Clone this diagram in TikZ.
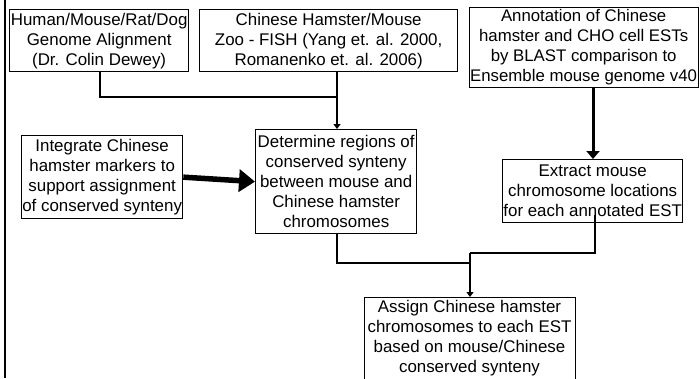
\documentclass[tikz,border=0pt]{standalone}
\usepackage{fontspec}
\setmainfont{Liberation Sans}
\usetikzlibrary{arrows.meta}
\begin{document}
\begin{tikzpicture}[x=1pt,y=-1pt,
  box/.style={draw,line width=1.3pt,rectangle,inner sep=0pt,anchor=north west,align=center,
    font=\fontsize{16.9}{20}\selectfont},
  conn/.style={line width=1.3pt},
  thinarrow/.style={conn,-{Triangle[width=7pt,length=5pt]}},
  medarrow/.style={line width=3pt,-{Triangle[width=13pt,length=8pt]}},
  bigarrow/.style={line width=5.5pt,-{Triangle[width=22pt,length=16pt]}}]
\useasboundingbox (0,0) rectangle (700,378);
\clip (0,0) rectangle (700,378);
\coordinate (lt) at (5,0);
\coordinate (lb) at (5,378);
\draw[line width=2pt] (lt) -- (lb);
\node[box,minimum width=179pt,minimum height=62pt] (b1) at (9,9)
  {Human/Mouse/Rat/Dog\\Genome Alignment\\(Dr. Colin Dewey)};
\node[box,minimum width=258pt,minimum height=62pt] (b2) at (199,9)
  {Chinese Hamster/Mouse\\Zoo - FISH (Yang et. al. 2000,\\Romanenko et. al. 2006)};
\node[box,minimum width=229pt,minimum height=80pt,font=\fontsize{16.8}{20}\selectfont] (b3) at (468.5,7)
  {Annotation of Chinese\\hamster and CHO cell ESTs\\by BLAST comparison to\\Ensemble mouse genome v40};
\node[box,minimum width=161pt,minimum height=83pt] (integ) at (21,135)
  {Integrate Chinese\\hamster markers to\\support assignment\\of conserved synteny};
\node[box,minimum width=161pt,minimum height=104pt] (det) at (255,129)
  {Determine regions of\\conserved synteny\\between mouse and\\Chinese hamster\\chromosomes};
\node[box,minimum width=180pt,minimum height=63pt] (ext) at (502,159)
  {Extract mouse\\chromosome locations\\for each annotated EST};
\node[box,minimum width=211pt,minimum height=100pt,anchor=north west] (asg) at (364,297) {};
\node[font=\fontsize{16.9}{20}\selectfont,align=center,anchor=north,inner sep=0pt] (asgt) at (469.5,300)
  {Assign Chinese hamster\\chromosomes to each EST\\based on mouse/Chinese\\conserved synteny};
% connectors
\coordinate (j1) at (100,97);
\coordinate (j2) at (337,97);
\draw[conn] (b1.south -| j1) -- (j1) -- (j2);
\draw[thinarrow] (b2.south -| j2) -- (det.north -| j2);
\draw[medarrow] (b3.south -| 593,0) -- (ext.north -| 593,0);
\draw[bigarrow] (integ.east) -- (det.west);
\coordinate (k1) at (337,263);
\coordinate (k2) at (470,263);
\coordinate (k3) at (470,253);
\coordinate (k4) at (595,253);
\coordinate (k5) at (595,215);
\draw[conn] (det.south -| k1) -- (k1) -- (k2);
\draw[conn] (k5) -- (k4) -- (k3);
\draw[thinarrow] (k3) -- (asg.north -| k3);
\end{tikzpicture}
\end{document}
